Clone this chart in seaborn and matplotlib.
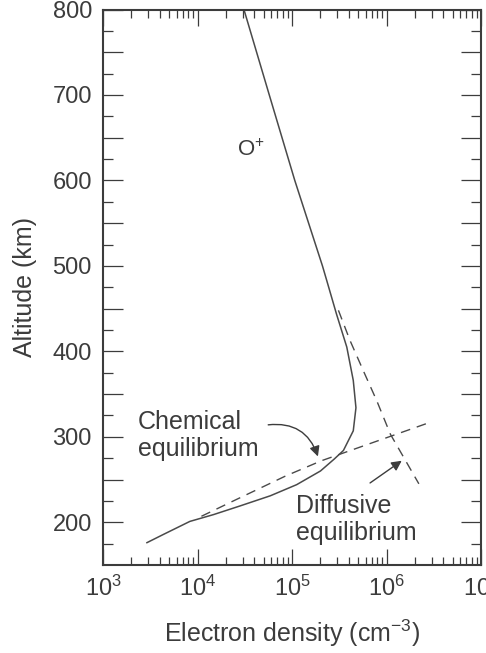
import matplotlib
matplotlib.use("Agg")
import matplotlib.pyplot as plt
import seaborn as sns
import pandas as pd

# ---- data ----
# O+ electron density profile (solid)
profile_density = [2.9e3, 4.4e3, 8.3e3, 1.48e4, 2.8e4, 5.9e4, 1.12e5, 2.0e5, 2.8e5,
                   3.5e5, 4.45e5, 4.75e5, 4.45e5, 3.8e5, 2.95e5, 2.33e5, 2.1e5,
                   1.07e5, 5.75e4, 3.1e4]
profile_altitude = [176, 186, 201, 209, 219, 231, 244, 260, 274,
                    284, 307, 334, 366, 405, 444, 483, 500,
                    600, 700, 800]

# chemical equilibrium approximation (dashed)
chem_density = [1.1e4, 2.2e4, 8.5e4, 2.05e5, 2.9e6]
chem_altitude = [207, 223, 254, 272, 317]

# diffusive equilibrium approximation (dashed)
diff_density = [3.1e5, 4.1e5, 5.7e5, 7.9e5, 1.1e6, 2.2e6]
diff_altitude = [448, 413, 377, 342, 303, 245]

x_tick_values = [1e3, 1e4, 1e5, 1e6, 1e7]
x_tick_labels = ["$10^{3}$", "$10^{4}$", "$10^{5}$", "$10^{6}$", "$10^{7}$"]
y_tick_values = [200, 250, 300, 350, 400, 450, 500, 550, 600, 650, 700, 750, 800]
y_tick_labels = ["200", "", "300", "", "400", "", "500", "", "600", "", "700", "", "800"]
y_minor_values = [175, 225, 275, 325, 375, 425, 475, 525, 575, 625, 675, 725, 775]

# ---- style ----
sns.set_theme(style="ticks")
plt.rcParams["font.family"] = ["Liberation Sans", "DejaVu Sans"]
plt.rcParams["mathtext.fontset"] = "custom"
plt.rcParams["mathtext.rm"] = "Liberation Sans"
plt.rcParams["mathtext.it"] = "Liberation Sans"
plt.rcParams["mathtext.default"] = "regular"

ink = "#3c3c3c"
line_col = "#4a4a4a"

fig = plt.figure(figsize=(4.86, 6.53), dpi=100)
ax = fig.add_axes([103 / 486, 1 - 565 / 653, (481 - 103) / 486, (565 - 9.5) / 653])

profile = pd.DataFrame({"density": profile_density, "altitude": profile_altitude})
chem = pd.DataFrame({"density": chem_density, "altitude": chem_altitude})
diff = pd.DataFrame({"density": diff_density, "altitude": diff_altitude})

sns.lineplot(data=profile, x="density", y="altitude", sort=False, estimator=None,
             ax=ax, color=line_col, lw=1.1)
sns.lineplot(data=chem, x="density", y="altitude", sort=False, estimator=None,
             ax=ax, color=line_col, lw=1.0)
ax.lines[-1].set_dashes((7, 5))
sns.lineplot(data=diff, x="density", y="altitude", sort=False, estimator=None,
             ax=ax, color=line_col, lw=1.0)
ax.lines[-1].set_dashes((7, 5))

ax.set_xscale("log")
ax.set_xlim(1e3, 1e7)
ax.set_ylim(150, 800)

ax.set_xticks(x_tick_values, x_tick_labels)
ax.set_yticks(y_tick_values, y_tick_labels)
ax.set_yticks(y_minor_values, minor=True)

for sp in ax.spines.values():
    sp.set_visible(True)
    sp.set_linewidth(1.5)
    sp.set_color(ink)

ax.tick_params(which="both", direction="in", top=True, right=True, color=ink,
               labelcolor=ink, labelsize=17)
ax.tick_params(axis="x", which="major", length=11.5, width=0.9, pad=8)
ax.tick_params(axis="x", which="minor", length=5.5, width=0.9)
ax.tick_params(axis="y", which="major", length=14.4, width=0.9, pad=8)
ax.tick_params(axis="y", which="minor", length=7.2, width=0.9)

ax.set_xlabel("Electron density (cm$^{-3}$)", fontsize=18, color=ink, labelpad=12)
ax.set_ylabel("Altitude (km)", fontsize=18, color=ink, labelpad=11)

ax.text(2.35e3, 302, "Chemical\nequilibrium", fontsize=18, color=ink,
        ha="left", va="center", linespacing=1.15)
ax.text(1.1e5, 203, "Diffusive\nequilibrium", fontsize=18, color=ink,
        ha="left", va="center", linespacing=1.15)
ax.text(2.65e4, 635, "O$^{+}$", fontsize=16, color=ink, ha="left", va="center")

ax.annotate("", xy=(1.88e5, 277), xytext=(5.6e4, 314),
            arrowprops=dict(arrowstyle="-|>", connectionstyle="arc3,rad=-0.4",
                            color=ink, lw=1.0, mutation_scale=15,
                            shrinkA=0, shrinkB=0))
ax.annotate("", xy=(1.45e6, 272), xytext=(6.7e5, 246),
            arrowprops=dict(arrowstyle="-|>", color=ink, lw=1.0,
                            mutation_scale=15, shrinkA=0, shrinkB=0))

fig.savefig("out.png", dpi=100)
